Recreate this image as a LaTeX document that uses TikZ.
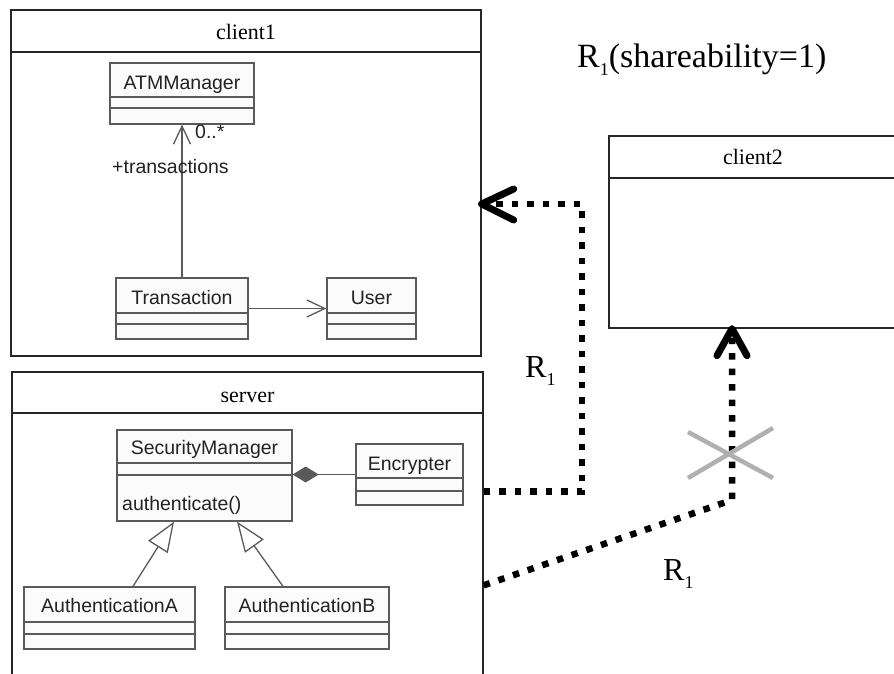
\documentclass[tikz,border=0pt]{standalone}
\usepackage{fontspec}
\setmainfont{Liberation Serif}
\newfontfamily\umlfont{Liberation Sans}
\usetikzlibrary{arrows.meta}

\definecolor{umlline}{HTML}{5A5A5A}
\definecolor{umltext}{HTML}{222222}
\definecolor{crossgray}{HTML}{B0B0B0}

% lowered index digit used in the R_1 labels
\newcommand\rindex[1]{\raisebox{-8pt}{\fontsize{18}{20}\selectfont #1}}

\tikzset{
  frame/.style={draw=black!85, line width=1.3pt, inner sep=0pt},
  framerule/.style={draw=black!85, line width=1.3pt},
  frametitle/.style={font=\fontsize{22}{26}\selectfont, inner sep=0pt, anchor=base},
  classbox/.style={draw=umlline, fill=black!1.5, line width=1.3pt, inner sep=0pt},
  classrule/.style={draw=umlline, line width=1.3pt},
  classname/.style={font=\umlfont\fontsize{19.5}{23}\selectfont, text=umltext, inner sep=0pt},
  assoc/.style={draw=umlline, line width=1.3pt},
  openhead/.style={-{Straight Barb[length=18pt,width=17pt,line width=1.3pt]}},
  genhead/.style={-{Triangle[open,fill=white,length=30pt,width=23pt,line width=1.3pt]}},
  comphead/.style={-{Diamond[length=26pt,width=16pt]}},
  rdots/.style={line width=6.5pt, dash pattern=on 6.5pt off 9pt},
  vee/.style={line width=7pt, line cap=round, line join=round},
  cross/.style={draw=crossgray, line width=4.5pt},
  rlabel/.style={font=\fontsize{32}{36}\selectfont, inner sep=0pt, anchor=base west},
}

% a UML class: name, label, x1, y1, x2, y2, first rule, second rule, label baseline
\newcommand\umlclass[9]{%
  \node[classbox, minimum width={#5-#3}, minimum height={#6-#4}] (#1) at ({(#3+#5)/2},{(#4+#6)/2}) {};
  \draw[classrule] (#3,#7) -- (#5,#7) (#3,#8) -- (#5,#8);
  \node[classname, anchor=base] (#1-name) at ({(#3+#5)/2},#9) {#2};
}

\begin{document}
\begin{tikzpicture}[x=1pt, y=-1pt]
\useasboundingbox (0,0) rectangle (894,673);
\clip (0,0) rectangle (894,673);
\fill[white] (0,0) rectangle (894,673);

% ---- package frames ----
\node[frame, minimum width=470, minimum height=346] (client1) at (246,183) {};
\draw[framerule] (11,52) -- (481,52);
\node[frametitle] (client1-title) at (246,39.5) {client1};

\node[frame, minimum width=471, minimum height=340] (server) at (247.5,542) {};
\draw[framerule] (12,413) -- (483,413);
\node[frametitle] (server-title) at (247.5,402) {server};

\node[frame, minimum width=291, minimum height=192] (client2) at (754.5,232) {};
\draw[framerule] (609,178) -- (900,178);
\node[frametitle] (client2-title) at (753,164) {client2};

% ---- client1 classes ----
\umlclass{atm}{ATMManager}{110}{63}{254}{124}{97}{108}{89.5}
\umlclass{trans}{Transaction}{116}{278}{248}{339}{313}{324}{304}
\umlclass{user}{User}{327}{278}{416}{339}{313}{324}{304}

\draw[assoc, openhead] (trans) -- (atm);
\node[classname, anchor=base west] (mult) at (195,138) {0..*};
\node[classname, anchor=base west] (role) at (112,173) {+transactions};
\draw[assoc, openhead] (trans) -- (user);

% ---- server classes ----
\umlclass{secm}{SecurityManager}{117}{430}{292}{521}{463}{475}{454.5}
\node[classname, anchor=base west] (secm-op) at (122,510.5) {authenticate()};
\umlclass{enc}{Encrypter}{356}{444}{463}{505}{478}{491}{470}
\umlclass{authA}{AuthenticationA}{24}{587}{195}{649}{622}{634}{612}
\umlclass{authB}{AuthenticationB}{225}{587}{389}{649}{622}{634}{612}

\draw[assoc, comphead] (enc.west) -- (enc.west -| secm.east);
\draw[assoc, genhead] ([xshift=23.5pt]authA.north) -- ([xshift=-30.5pt]secm.south);
\draw[assoc, genhead] ([xshift=-24pt]authB.north) -- ([xshift=32.5pt]secm.south);

% ---- R1 flows ----
\node[rlabel, font=\fontsize{34}{38}\selectfont] (share) at (577,67) {R\rindex{1}(shareability=1)};

\coordinate (out1) at ([yshift=-120pt]server.north east);
\coordinate (bend1) at (582,204);
\coordinate (in1) at (client1.east |- bend1);
\draw[rdots] (out1) -| (bend1) -- (in1);
\draw[vee] ([shift={(32,-15)}]in1) -- (in1) -- ([shift={(32,16)}]in1);
\node[rlabel] (r1a) at (525,377) {R\rindex{1}};

\coordinate (out2) at ([yshift=-214pt]server.north east);
\coordinate (bend2) at (732,500);
\coordinate (in2) at (bend2 |- client2.south);
\draw[rdots] (out2) -- (bend2) -- (in2);
\draw[vee] ([shift={(-15,27)}]in2) -- (in2) -- ([shift={(15,27)}]in2);
\node[rlabel] (r1b) at (663,580) {R\rindex{1}};

% blocked flow mark
\draw[cross] (688,432) -- (773,478) (688,478) -- (773,428);
\end{tikzpicture}
\end{document}
